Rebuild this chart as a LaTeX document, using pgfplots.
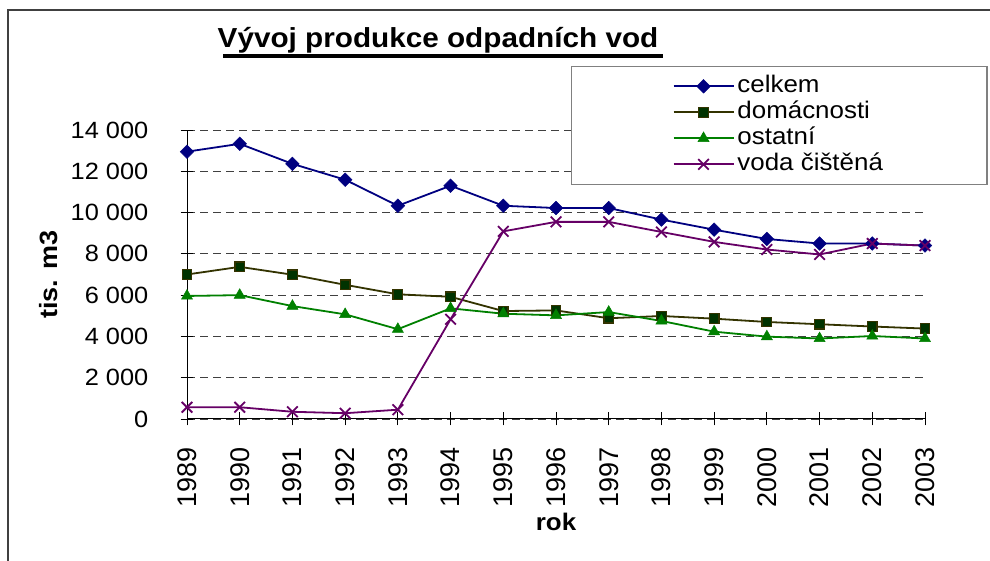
\documentclass[border=0pt]{standalone}
\usepackage{fontspec}
\setmainfont{Liberation Sans}[FakeStretch=1.08]
\newfontfamily\yearfont{Liberation Sans}
\usepackage{pgfplots}
\pgfplotsset{compat=1.18}
\definecolor{cNavy}{RGB}{0,0,128}
\definecolor{cOlive}{RGB}{51,51,0}
\definecolor{cDkGreen}{RGB}{0,51,0}
\definecolor{cGreen}{RGB}{0,128,0}
\definecolor{cPurple}{RGB}{102,0,102}
\definecolor{cFrame}{RGB}{64,64,64}
\begin{document}
\begin{tikzpicture}
\useasboundingbox (0,0) rectangle (990pt,561pt);
\fill[white] (0,0) rectangle (990pt,561pt);
% outer frame
\draw[cFrame, line width=2.3pt] (7.8pt,-5pt) -- (7.8pt,551pt) -- (995pt,551pt);
% title
\node[anchor=base, inner sep=0pt, font=\fontsize{27.5}{32}\selectfont\bfseries] at (438pt,513.3pt) {Vývoj produkce odpadních vod};
\draw[black, line width=3.4pt] (223pt,505pt) -- (663pt,505pt);
\begin{axis}[
  at={(187pt,142pt)}, anchor=south west,
  scale only axis, width=738pt, height=289pt,
  xmin=1989, xmax=2003, ymin=0, ymax=14000,
  clip=false,
  scaled y ticks=false, scaled x ticks=false,
  axis x line*=bottom, axis y line*=left,
  axis line style={-, black, line width=1pt},
  xtick={1989,1990,1991,1992,1993,1994,1995,1996,1997,1998,1999,2000,2001,2002,2003},
  xticklabels={1989,1990,1991,1992,1993,1994,1995,1996,1997,1998,1999,2000,2001,2002,2003},
  ytick={0,2000,4000,6000,8000,10000,12000,14000},
  yticklabels={0,{2 000},{4 000},{6 000},{8 000},{10 000},{12 000},{14 000}},
  tick align=center, major tick length=13pt,
  tick style={black, line width=0.8pt},
  ymajorgrids,
  grid style={dash pattern=on 8pt off 5pt, black!75, line width=0.9pt},
  yticklabel style={font=\fontsize{23.5}{27}\selectfont, anchor=east, inner sep=0pt, xshift=-32pt},
  xticklabel style={font=\yearfont\fontsize{27}{32}\selectfont, rotate=90, anchor=east, inner sep=0pt},
  xticklabel shift=22pt,
  xlabel={rok},
  xlabel style={font=\fontsize{24}{28}\selectfont\bfseries, at={(axis description cs:0.5,-0.3875)}, anchor=base, inner sep=0pt},
  ylabel={tis. m3},
  ylabel style={font=\fontsize{25}{30}\selectfont\bfseries, at={(axis description cs:-0.187,0.5)}, anchor=center, rotate=0},
  legend style={at={(rel axis cs:0.5203,1.2225)}, anchor=north west,
    draw=black!50, line width=1.3pt, fill=white,
    inner xsep=101pt, inner ysep=7pt,
    font=\fontsize{24}{28}\selectfont,
    nodes={text height=17pt, text depth=5pt, inner ysep=2pt, inner xsep=3pt}},
  legend cell align=left,
  legend image code/.code={\draw[mark repeat=2,mark phase=2] plot coordinates {(0pt,0pt) (30pt,0pt) (60pt,0pt)};},
]
\addplot[cNavy, line width=1.8pt, mark=square*, mark size=4.8pt, mark options={rotate=45, fill=cNavy, draw=cNavy, line width=0.5pt}]
 coordinates {(1989,12950) (1990,13330) (1991,12360) (1992,11590) (1993,10330) (1994,11300) (1995,10330) (1996,10220) (1997,10220) (1998,9660) (1999,9170) (2000,8720) (2001,8500) (2002,8500) (2003,8400)};
\addlegendentry{celkem}
\addplot[cOlive, line width=1.8pt, mark=square*, mark size=4.8pt, mark options={fill=cDkGreen, draw=cOlive, line width=1.2pt}]
 coordinates {(1989,7000) (1990,7370) (1991,6990) (1992,6500) (1993,6040) (1994,5920) (1995,5230) (1996,5260) (1997,4880) (1998,4990) (1999,4860) (2000,4700) (2001,4590) (2002,4480) (2003,4380)};
\addlegendentry{domácnosti}
\addplot[cGreen, line width=1.8pt, mark=triangle*, mark size=6.4pt, mark options={fill=cGreen, draw=cGreen, line width=0.5pt}]
 coordinates {(1989,5960) (1990,6000) (1991,5470) (1992,5070) (1993,4350) (1994,5360) (1995,5100) (1996,5020) (1997,5180) (1998,4750) (1999,4230) (2000,3990) (2001,3900) (2002,4020) (2003,3900)};
\addlegendentry{ostatní}
\addplot[cPurple, line width=1.8pt, mark=x, mark size=7.5pt, mark options={line width=1.8pt}]
 coordinates {(1989,570) (1990,570) (1991,350) (1992,280) (1993,450) (1994,4830) (1995,9090) (1996,9550) (1997,9550) (1998,9060) (1999,8580) (2000,8210) (2001,7970) (2002,8500) (2003,8400)};
\addlegendentry{voda čištěná}
\end{axis}
\end{tikzpicture}
\end{document}
